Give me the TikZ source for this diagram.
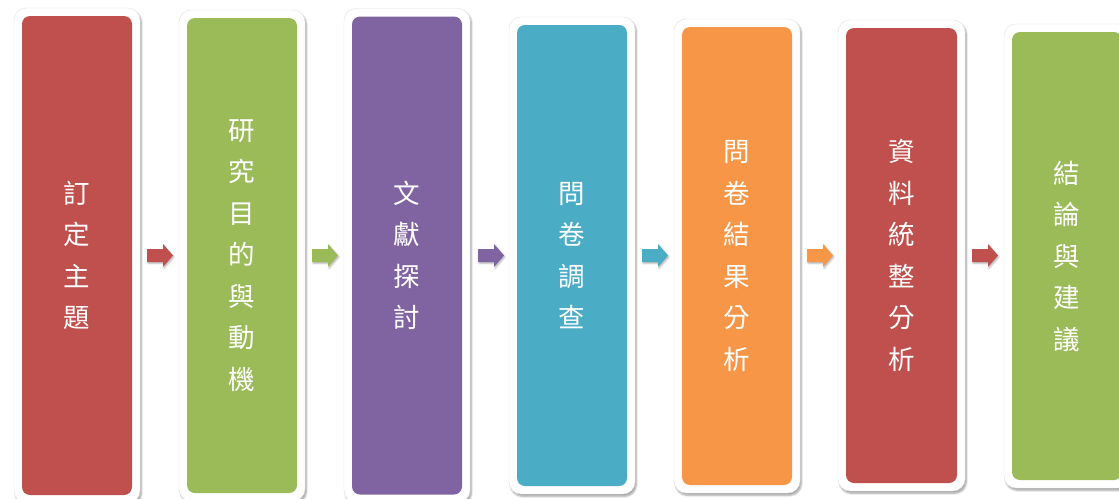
\documentclass[tikz,border=0pt]{standalone}
\usepackage{fontspec}
\newfontfamily\cjk{Noto Sans CJK TC}
\usetikzlibrary{shadows.blur}
\definecolor{cred}{HTML}{C0504D}
\definecolor{cgreen}{HTML}{9BBB59}
\definecolor{cpurple}{HTML}{8064A2}
\definecolor{cblue}{HTML}{4BACC6}
\definecolor{corange}{HTML}{F79646}
\tikzset{
  frame/.style={fill=white, draw=black!12, line width=0.4pt, rounded corners=12pt, inner sep=0pt,
    blur shadow={shadow xshift=1.5pt, shadow yshift=-2.5pt, shadow blur steps=6, shadow opacity=35}},
  stepbox/.style={fill=#1, rounded corners=8pt, inner sep=0pt, text=white, align=center,
    font=\cjk\fontsize{26.5}{41.5}\selectfont},
  arrowshape/.style={fill=#1, blur shadow={shadow xshift=1pt, shadow yshift=-1.5pt, shadow blur steps=4, shadow opacity=30}}
}
\newcommand{\blockarrow}[2]{%
  \fill[arrowshape=#2] (#1) ++(0,-6.5) -- ++(16,0) -- ++(0,-5) -- ++(10,11.5) -- ++(-10,11.5) -- ++(0,-5) -- ++(-16,0) -- cycle;}
\begin{document}
\begin{tikzpicture}[x=1pt,y=-1pt]
\useasboundingbox (0,0) rectangle (1119,498);
\clip (0,0) rectangle (1119,498);
% frames
\node[frame, minimum width=126pt, minimum height=495pt] (f1) at (77,255.5) {};
\node[frame, minimum width=126pt, minimum height=491pt] (f2) at (242,255.5) {};
\node[frame, minimum width=126pt, minimum height=494pt] (f3) at (407,255.5) {};
\node[frame, minimum width=126pt, minimum height=477pt] (f4) at (572,255.5) {};
\node[frame, minimum width=126pt, minimum height=474pt] (f5) at (737,256) {};
\node[frame, minimum width=127pt, minimum height=471pt] (f6) at (901.5,255.5) {};
\node[frame, minimum width=126pt, minimum height=464pt] (f7) at (1067,256) {};
% coloured boxes
\node[stepbox=cred, minimum width=110pt, minimum height=479pt] (b1) at (f1.center) {訂\\定\\主\\題};
\node[stepbox=cgreen, minimum width=110pt, minimum height=475pt] (b2) at (f2.center) {研\\究\\目\\的\\與\\動\\機};
\node[stepbox=cpurple, minimum width=110pt, minimum height=478pt] (b3) at (f3.center) {文\\獻\\探\\討};
\node[stepbox=cblue, minimum width=110pt, minimum height=461pt] (b4) at (f4.center) {問\\卷\\調\\查};
\node[stepbox=corange, minimum width=110pt, minimum height=458pt] (b5) at (f5.center) {問\\卷\\結\\果\\分\\析};
\node[stepbox=cred, minimum width=111pt, minimum height=455pt] (b6) at (f6.center) {資\\料\\統\\整\\分\\析};
\node[stepbox=cgreen, minimum width=110pt, minimum height=448pt] (b7) at (f7.center) {結\\論\\與\\建\\議};
% arrows
\coordinate (a1) at (147,255.5);
\coordinate (a2) at (312,255.5);
\coordinate (a3) at (478,255.5);
\coordinate (a4) at (642,255.5);
\coordinate (a5) at (807,255.5);
\coordinate (a6) at (972,255.5);
\blockarrow{a1}{cred}
\blockarrow{a2}{cgreen}
\blockarrow{a3}{cpurple}
\blockarrow{a4}{cblue}
\blockarrow{a5}{corange}
\blockarrow{a6}{cred}
\end{tikzpicture}
\end{document}
